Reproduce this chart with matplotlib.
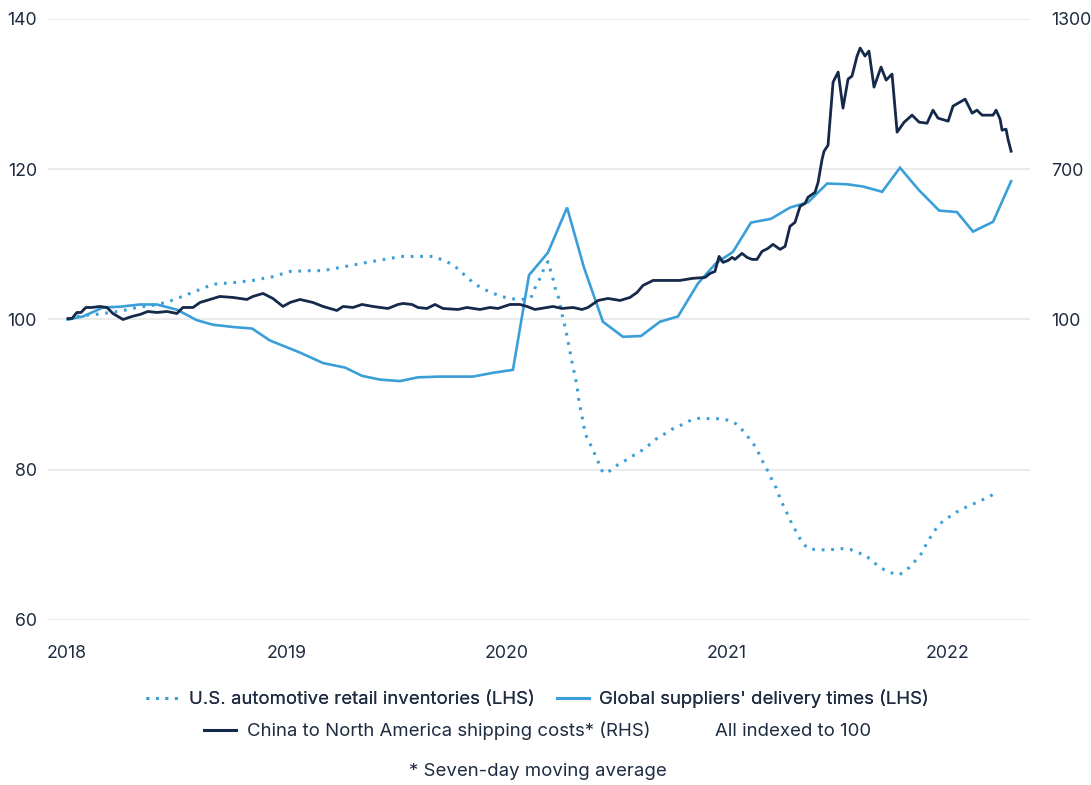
import matplotlib.pyplot as plt
from matplotlib.lines import Line2D

plt.rcParams['font.family'] = ['Inter', 'DejaVu Sans']

TEXT = '#1e2b40'
NAVY = '#15294a'
BLUE = '#3a9fd8'
GRID = '#ebebeb'

# U.S. automotive retail inventories (LHS), decimal years
inv_years = [2018.005, 2018.059, 2018.136, 2018.241, 2018.318, 2018.391, 2018.455,
             2018.527, 2018.605, 2018.664, 2018.755, 2018.845, 2018.936, 2019.014,
             2019.105, 2019.164, 2019.273, 2019.364, 2019.482, 2019.518, 2019.591,
             2019.664, 2019.700, 2019.732, 2019.764, 2019.786, 2019.818, 2019.845,
             2019.873, 2019.905, 2019.936, 2019.973, 2020.009, 2020.045, 2020.077,
             2020.109, 2020.123, 2020.136, 2020.155, 2020.168, 2020.186, 2020.195,
             2020.205, 2020.223, 2020.236, 2020.250, 2020.268, 2020.282, 2020.295,
             2020.318, 2020.327, 2020.341, 2020.355, 2020.368, 2020.386, 2020.400,
             2020.414, 2020.427, 2020.445, 2020.477, 2020.505, 2020.536, 2020.568,
             2020.600, 2020.632, 2020.659, 2020.686, 2020.718, 2020.750, 2020.782,
             2020.814, 2020.845, 2020.882, 2020.918, 2020.955, 2020.991, 2021.027,
             2021.055, 2021.077, 2021.100, 2021.123, 2021.141, 2021.155, 2021.173,
             2021.191, 2021.205, 2021.223, 2021.236, 2021.250, 2021.264, 2021.282,
             2021.295, 2021.314, 2021.332, 2021.350, 2021.377, 2021.414, 2021.450,
             2021.486, 2021.523, 2021.559, 2021.591, 2021.623, 2021.655, 2021.682,
             2021.714, 2021.745, 2021.782, 2021.809, 2021.836, 2021.859, 2021.882,
             2021.900, 2021.918, 2021.936, 2021.959, 2021.986, 2022.014, 2022.045,
             2022.077, 2022.109, 2022.145, 2022.177, 2022.209]
inv_values = [100.0, 100.5, 100.7, 101.1, 101.6, 101.9, 102.3,
              103.1, 104.0, 104.7, 104.9, 105.2, 105.7, 106.4,
              106.5, 106.5, 107.1, 107.6, 108.2, 108.4, 108.4,
              108.4, 108.0, 107.6, 107.1, 106.4, 105.7, 104.9,
              104.4, 103.9, 103.5, 103.1, 102.8, 102.7, 102.7,
              102.9, 103.9, 104.8, 105.7, 106.8, 107.7, 106.8,
              105.9, 103.7, 102.8, 100.7, 98.5, 96.4, 94.4,
              91.2, 89.1, 87.1, 84.9, 83.9, 83.0, 82.0,
              81.1, 80.0, 79.5, 80.0, 80.7, 81.2, 81.8,
              82.3, 83.0, 83.6, 84.3, 84.8, 85.4, 85.8,
              86.3, 86.7, 86.9, 86.8, 86.8, 86.7, 86.4,
              85.8, 85.0, 84.2, 83.3, 82.4, 81.5, 80.5,
              79.5, 78.6, 77.6, 76.6, 75.6, 74.7, 73.7,
              72.7, 71.8, 70.8, 70.0, 69.4, 69.4, 69.3,
              69.4, 69.5, 69.4, 69.0, 68.7, 68.0, 67.3,
              66.7, 66.3, 66.0, 66.5, 67.2, 68.0, 68.8,
              69.8, 70.7, 71.6, 72.5, 73.3, 73.8, 74.4,
              74.9, 75.3, 75.8, 76.2, 76.7]

# Global suppliers' delivery times (LHS)
del_years = [2018.003, 2018.073, 2018.164, 2018.241, 2018.332, 2018.409, 2018.500,
             2018.591, 2018.664, 2018.755, 2018.841, 2018.923, 2019.059, 2019.164,
             2019.264, 2019.341, 2019.423, 2019.514, 2019.595, 2019.695, 2019.773,
             2019.845, 2019.936, 2020.027, 2020.100, 2020.186, 2020.273, 2020.350,
             2020.436, 2020.527, 2020.609, 2020.695, 2020.777, 2020.868, 2020.950,
             2021.027, 2021.109, 2021.200, 2021.286, 2021.368, 2021.455, 2021.545,
             2021.618, 2021.705, 2021.786, 2021.873, 2021.964, 2022.045, 2022.118,
             2022.209, 2022.291]
del_values = [100.0, 100.4, 101.6, 101.7, 102.0, 102.0, 101.3,
              99.9, 99.3, 99.0, 98.8, 97.2, 95.6, 94.2,
              93.6, 92.5, 92.0, 91.8, 92.3, 92.4, 92.4,
              92.4, 92.9, 93.3, 105.9, 108.9, 114.9, 106.9,
              99.7, 97.7, 97.8, 99.7, 100.4, 104.8, 107.5,
              109.0, 112.9, 113.4, 114.9, 115.6, 118.1, 118.0,
              117.7, 117.0, 120.2, 117.2, 114.5, 114.3, 111.7,
              113.0, 118.4]

# China to North America shipping costs, 7-day average (RHS)
ship_years = [2018.005, 2018.023, 2018.045, 2018.064, 2018.086, 2018.114, 2018.150,
              2018.182, 2018.209, 2018.255, 2018.295, 2018.332, 2018.368, 2018.409,
              2018.455, 2018.500, 2018.527, 2018.573, 2018.605, 2018.650, 2018.695,
              2018.755, 2018.818, 2018.845, 2018.891, 2018.936, 2018.982, 2019.014,
              2019.059, 2019.118, 2019.164, 2019.227, 2019.255, 2019.300, 2019.341,
              2019.391, 2019.459, 2019.505, 2019.527, 2019.568, 2019.595, 2019.636,
              2019.673, 2019.709, 2019.777, 2019.818, 2019.877, 2019.923, 2019.959,
              2020.014, 2020.059, 2020.091, 2020.127, 2020.182, 2020.209, 2020.250,
              2020.300, 2020.341, 2020.368, 2020.414, 2020.459, 2020.514, 2020.559,
              2020.591, 2020.618, 2020.664, 2020.727, 2020.786, 2020.841, 2020.900,
              2020.923, 2020.945, 2020.964, 2020.982, 2021.005, 2021.023, 2021.036,
              2021.068, 2021.091, 2021.114, 2021.136, 2021.159, 2021.186, 2021.209,
              2021.241, 2021.264, 2021.286, 2021.309, 2021.332, 2021.355, 2021.368,
              2021.400, 2021.414, 2021.432, 2021.441, 2021.459, 2021.482, 2021.505,
              2021.527, 2021.550, 2021.568, 2021.591, 2021.605, 2021.627, 2021.645,
              2021.668, 2021.700, 2021.723, 2021.750, 2021.773, 2021.805, 2021.841,
              2021.873, 2021.909, 2021.936, 2021.959, 2022.005, 2022.027, 2022.082,
              2022.114, 2022.136, 2022.159, 2022.209, 2022.223, 2022.241, 2022.250,
              2022.268, 2022.277, 2022.291]
ship_values = [104, 104, 128, 128, 148, 148, 152,
               148, 124, 100, 112, 120, 132, 128,
               132, 124, 148, 148, 168, 180, 192,
               188, 180, 192, 204, 184, 152, 168,
               180, 168, 152, 136, 152, 148, 160,
               152, 144, 160, 164, 160, 148, 144,
               160, 144, 140, 148, 140, 148, 144,
               160, 160, 152, 140, 148, 152, 144,
               148, 140, 148, 176, 184, 176, 188,
               208, 236, 256, 256, 256, 264, 268,
               284, 292, 352, 328, 336, 348, 340,
               364, 348, 340, 340, 372, 384, 400,
               380, 392, 472, 488, 552, 564, 588,
               608, 648, 740, 772, 796, 1048, 1088,
               944, 1060, 1072, 1152, 1184, 1152, 1172,
               1028, 1108, 1056, 1080, 848, 888, 916,
               888, 884, 936, 904, 892, 952, 980,
               924, 936, 916, 916, 936, 900, 856,
               860, 820, 772]

year_ticks = [2018, 2019, 2020, 2021, 2022]
lhs_ticks = [60, 80, 100, 120, 140]
rhs_ticks = [100, 700, 1300]

fig = plt.figure(figsize=(10.91, 7.85), dpi=100)
ax = fig.add_axes([0.044, 0.2102, 0.9001, 0.7656])
ax2 = ax.twinx()

ax.plot(inv_years, inv_values, color=BLUE, lw=2.2, linestyle=(0, (0.9, 2.2)))
ax.plot(del_years, del_values, color=BLUE, lw=1.9, solid_joinstyle='miter')
ax2.plot(ship_years, ship_values, color=NAVY, lw=2.0)

ax.set_xlim(2017.914, 2022.377)
ax.set_ylim(60, 140)
ax2.set_ylim(-1100, 1300)
ax.set_yticks(lhs_ticks)
ax2.set_yticks(rhs_ticks)
ax.set_xticks(year_ticks)
ax.set_xticklabels([str(y) for y in year_ticks])

ax.grid(axis='y', color=GRID, lw=1.5)
ax.set_axisbelow(True)
for a in (ax, ax2):
    for s in a.spines.values():
        s.set_visible(False)
    a.tick_params(length=0, labelsize=12.8, labelcolor=TEXT)
ax.tick_params(axis='y', pad=8)
ax.tick_params(axis='x', pad=18)
ax2.tick_params(axis='y', pad=15)

h_inv = Line2D([], [], color=BLUE, lw=2.2, linestyle=(0, (0.9, 2.2)))
h_del = Line2D([], [], color=BLUE, lw=2.2)
h_ship = Line2D([], [], color=NAVY, lw=2.2)
h_none = Line2D([], [], color='none')

leg_kw = dict(frameon=False, ncol=2, fontsize=13.4, handlelength=1.75,
              handletextpad=0.55, columnspacing=1.2, labelcolor=TEXT,
              loc='center', borderaxespad=0, borderpad=0)
leg1 = fig.legend([h_inv, h_del],
                  ['U.S. automotive retail inventories (LHS)',
                   "Global suppliers' delivery times (LHS)"],
                  bbox_to_anchor=(537.5 / 1091, 1 - 699 / 785), **leg_kw)
fig.add_artist(leg1)
fig.legend([h_ship, h_none],
           ['China to North America shipping costs* (RHS)', 'All indexed to 100'],
           bbox_to_anchor=(537.5 / 1091, 1 - 731 / 785), **leg_kw)
fig.text(538 / 1091, 1 - 772 / 785, '* Seven-day moving average',
         ha='center', va='center', fontsize=13.4, color=TEXT)

fig.savefig('out.png', dpi=100)
